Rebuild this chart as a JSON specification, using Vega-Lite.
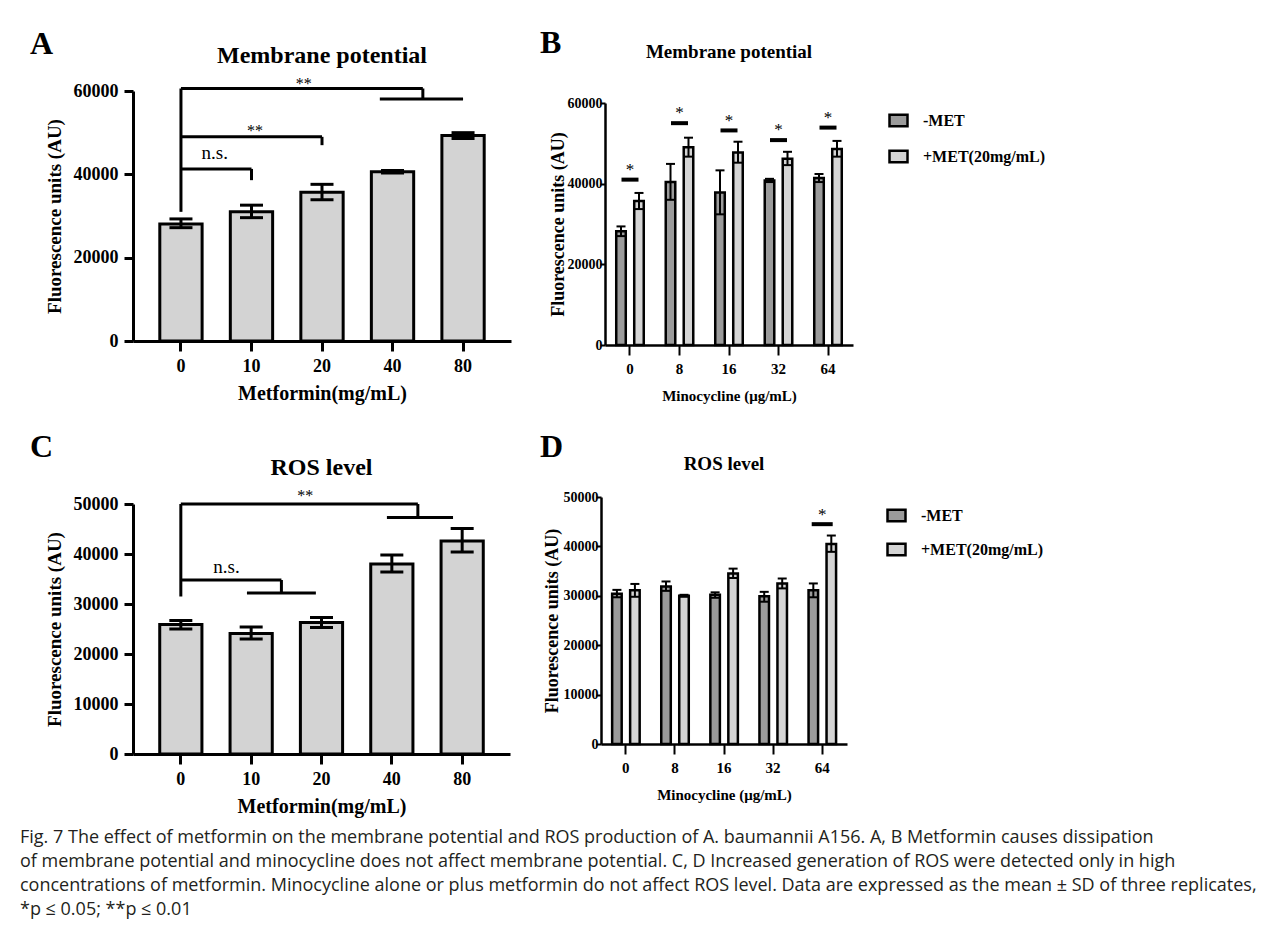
{
"$schema":"https://vega.github.io/schema/vega-lite/v6.json",
"background":"white",
"padding":{"left":20,"top":26,"right":10,"bottom":10},
"config":{
 "view":{"stroke":null},
 "axis":{"domainColor":"black","tickColor":"black","labelColor":"black","titleColor":"black","labelFont":"Liberation Serif","titleFont":"Liberation Serif","labelFontWeight":"bold","titleFontWeight":"bold","grid":false},
 "title":{"font":"Liberation Serif","fontWeight":"bold","color":"black"}
},
"datasets":{
 "mpA":[{"dose":"0","mean":28100,"lo":27200,"hi":29300},{"dose":"10","mean":31000,"lo":29600,"hi":32600},{"dose":"20","mean":35700,"lo":33900,"hi":37600},{"dose":"40","mean":40600,"lo":40300,"hi":40900},{"dose":"80","mean":49300,"lo":48600,"hi":50000}],
 "segA":[{"x1":0,"x2":0,"y1":31000,"y2":60600},{"x1":0,"x2":1,"y1":41300,"y2":41300},{"x1":1,"x2":1,"y1":41300,"y2":38600},{"x1":0,"x2":2,"y1":49000,"y2":49000},{"x1":2,"x2":2,"y1":49000,"y2":47000},{"x1":0,"x2":3.43,"y1":60600,"y2":60600},{"x1":3.43,"x2":3.43,"y1":60600,"y2":58100},{"x1":2.82,"x2":4.0,"y1":58100,"y2":58100}],
 "txtA":[{"x":0.48,"y":43600,"label":"n.s."},{"x":1.05,"y":49300,"label":"**"},{"x":1.74,"y":60500,"label":"**"}],
 "mpB":[{"mino":"0","grp":"-MET","mean":28200,"lo":27000,"hi":29400},{"mino":"0","grp":"+MET(20mg/mL)","mean":35700,"lo":33700,"hi":37700},{"mino":"8","grp":"-MET","mean":40400,"lo":36000,"hi":44900},{"mino":"8","grp":"+MET(20mg/mL)","mean":49000,"lo":46700,"hi":51400},{"mino":"16","grp":"-MET","mean":37800,"lo":32400,"hi":43300},{"mino":"16","grp":"+MET(20mg/mL)","mean":47700,"lo":45200,"hi":50400},{"mino":"32","grp":"-MET","mean":40800,"lo":40400,"hi":41200},{"mino":"32","grp":"+MET(20mg/mL)","mean":46200,"lo":44600,"hi":47900},{"mino":"64","grp":"-MET","mean":41400,"lo":40400,"hi":42400},{"mino":"64","grp":"+MET(20mg/mL)","mean":48600,"lo":46700,"hi":50600}],
 "sigB":[{"mino":"0","bar":41000,"star":42200},{"mino":"8","bar":55000,"star":56200},{"mino":"16","bar":53200,"star":54400},{"mino":"32","bar":50800,"star":52000},{"mino":"64","bar":53900,"star":55100}],
 "mpC":[{"dose":"0","mean":25900,"lo":25000,"hi":26700},{"dose":"10","mean":24100,"lo":23000,"hi":25400},{"dose":"20","mean":26300,"lo":25300,"hi":27300},{"dose":"40","mean":38000,"lo":36400,"hi":39800},{"dose":"80","mean":42600,"lo":40400,"hi":45100}],
 "segC":[{"x1":0,"x2":0,"y1":31500,"y2":50000},{"x1":0,"x2":1.43,"y1":34800,"y2":34800},{"x1":1.43,"x2":1.43,"y1":34800,"y2":32200},{"x1":0.94,"x2":1.92,"y1":32200,"y2":32200},{"x1":0,"x2":3.37,"y1":50000,"y2":50000},{"x1":3.37,"x2":3.37,"y1":50000,"y2":47300},{"x1":2.93,"x2":3.87,"y1":47300,"y2":47300}],
 "txtC":[{"x":0.65,"y":36200,"label":"n.s."},{"x":1.77,"y":50600,"label":"**"}],
 "mpD":[{"mino":"0","grp":"-MET","mean":30400,"lo":29700,"hi":31200},{"mino":"0","grp":"+MET(20mg/mL)","mean":31100,"lo":29800,"hi":32400},{"mino":"8","grp":"-MET","mean":31900,"lo":31000,"hi":32900},{"mino":"8","grp":"+MET(20mg/mL)","mean":30000,"lo":29800,"hi":30200},{"mino":"16","grp":"-MET","mean":30200,"lo":29600,"hi":30700},{"mino":"16","grp":"+MET(20mg/mL)","mean":34500,"lo":33600,"hi":35500},{"mino":"32","grp":"-MET","mean":29900,"lo":28800,"hi":30800},{"mino":"32","grp":"+MET(20mg/mL)","mean":32500,"lo":31500,"hi":33500},{"mino":"64","grp":"-MET","mean":31100,"lo":29700,"hi":32500},{"mino":"64","grp":"+MET(20mg/mL)","mean":40500,"lo":38900,"hi":42200}],
 "sigD":[{"mino":"64","bar":44500,"star":45400}],
 "blank":[{}]
},
"title":{"text":["Fig. 7  The effect of metformin on the membrane potential and ROS production of A. baumannii A156. A, B Metformin causes dissipation","of membrane potential and minocycline does not affect membrane potential. C, D Increased generation of ROS were detected only in high","concentrations of metformin. Minocycline alone or plus metformin do not affect ROS level. Data are expressed as the mean ± SD of three replicates,","*p ≤ 0.05; **p ≤ 0.01"],"orient":"bottom","anchor":"start","frame":"bounds","font":"Open Sans","fontSize":18,"fontWeight":"normal","lineHeight":24,"offset":13,"dx":-10,"color":"#231f20"},
"resolve":{"scale":{"color":"independent"},"legend":{"color":"independent"}},
"columns":2,
"align":"none",
"spacing":{"row":27,"column":29},
"concat":[
 {"title":{"text":"A","anchor":"start","frame":"bounds","fontSize":32,"dx":-15,"offset":-29},
  "spacing":0,
  "vconcat":[
  {"width":10,"height":1,"data":{"name":"blank"},"mark":{"type":"text"},"encoding":{"text":{"value":""}}},
  {
   "width":378,"height":250,
   "title":{"text":"Membrane potential","fontSize":24,"frame":"group","offset":8},
   "resolve":{"scale":{"x":"independent"}},
   "layer":[
    {"data":{"name":"mpA"},"layer":[
     {"mark":{"type":"bar","fill":"#d3d3d3","stroke":"black","strokeWidth":3},
      "encoding":{"x":{"field":"dose","type":"ordinal","sort":["0","10","20","40","80"],"scale":{"paddingInner":0.4,"paddingOuter":0.38},"axis":{"title":"Metformin(mg/mL)","labelAngle":0,"labelFontSize":18,"titleFontSize":20,"tickSize":10,"tickWidth":3,"domainWidth":3,"labelPadding":6,"titlePadding":8}},
       "y":{"field":"mean","type":"quantitative","title":"Fluorescence units (AU)","scale":{"domain":[0,60000],"nice":false},"axis":{"values":[0,20000,40000,60000],"format":"d","labelFontSize":18,"titleFontSize":19,"tickSize":9,"tickWidth":3,"domainWidth":3,"labelPadding":6,"titlePadding":9}}}},
     {"mark":{"type":"rule","color":"black","strokeWidth":3},
      "encoding":{"x":{"field":"dose","type":"ordinal","sort":["0","10","20","40","80"]},"y":{"field":"lo","type":"quantitative","title":"Fluorescence units (AU)"},"y2":{"field":"hi"}}},
     {"mark":{"type":"tick","color":"black","opacity":1,"size":23,"thickness":3},
      "encoding":{"x":{"field":"dose","type":"ordinal","sort":["0","10","20","40","80"]},"y":{"field":"hi","type":"quantitative","title":"Fluorescence units (AU)"}}},
     {"mark":{"type":"tick","color":"black","opacity":1,"size":23,"thickness":3},
      "encoding":{"x":{"field":"dose","type":"ordinal","sort":["0","10","20","40","80"]},"y":{"field":"lo","type":"quantitative","title":"Fluorescence units (AU)"}}}
    ]},
    {"layer":[
     {"data":{"name":"segA"},"mark":{"type":"rule","color":"black","strokeWidth":3},
      "encoding":{"x":{"field":"x1","type":"quantitative","scale":{"domain":[-0.68,4.68],"nice":false,"zero":false},"axis":null},"x2":{"field":"x2"},"y":{"field":"y1","type":"quantitative","title":"Fluorescence units (AU)"},"y2":{"field":"y2"}}},
     {"data":{"name":"txtA"},"transform":[{"filter":"datum.label == 'n.s.'"}],"mark":{"type":"text","font":"Liberation Serif","color":"black","fontSize":19,"baseline":"alphabetic"},
      "encoding":{"x":{"field":"x","type":"quantitative","axis":null},"y":{"field":"y","type":"quantitative","title":"Fluorescence units (AU)"},"text":{"field":"label"}}},
     {"data":{"name":"txtA"},"transform":[{"filter":"datum.label != 'n.s.'"}],"mark":{"type":"text","font":"Liberation Serif","color":"black","fontSize":16,"baseline":"alphabetic"},
      "encoding":{"x":{"field":"x","type":"quantitative","axis":null},"y":{"field":"y","type":"quantitative","title":"Fluorescence units (AU)"},"text":{"field":"label"}}}
    ]}
   ]
  }]
 },
 {"title":{"text":"B","anchor":"start","frame":"bounds","fontSize":32,"dx":-9,"offset":-28},
  "spacing":0,
  "resolve":{"scale":{"color":"independent"},"legend":{"color":"independent"}},
  "vconcat":[
  {"width":10,"height":1,"data":{"name":"blank"},"mark":{"type":"text"},"encoding":{"text":{"value":""}}},
  {
   "width":248,"height":242,
   "title":{"text":"Membrane potential","fontSize":19,"frame":"group","offset":34},
   "layer":[
    {"data":{"name":"mpB"},"mark":{"type":"bar","stroke":"black","strokeWidth":2.5},
     "encoding":{"x":{"field":"mino","type":"ordinal","sort":["0","8","16","32","64"],"scale":{"paddingInner":0.444,"paddingOuter":0.227},"axis":{"title":"Minocycline (μg/mL)","labelAngle":0,"labelFontSize":15,"titleFontSize":15,"tickSize":10,"tickWidth":2,"domainWidth":2.5,"labelPadding":6,"titlePadding":12}},
      "xOffset":{"field":"grp","type":"nominal","sort":["-MET","+MET(20mg/mL)"],"scale":{"paddingInner":0.47,"paddingOuter":0}},
      "y":{"field":"mean","type":"quantitative","title":"Fluorescence units (AU)","scale":{"domain":[0,60000],"nice":false},"axis":{"values":[0,20000,40000,60000],"format":"d","labelFontSize":14,"titleFontSize":18,"tickSize":5,"tickWidth":2,"domainWidth":2.5,"labelPadding":-2,"titlePadding":0}},
      "color":{"field":"grp","type":"nominal","scale":{"domain":["-MET","+MET(20mg/mL)"],"range":["#9b9b9b","#d4d4d4"]},"legend":{"title":null,"orient":"right","offset":28,"padding":7,"symbolType":"M-1,-0.65H1V0.65H-1Z","symbolSize":324,"symbolStrokeColor":"black","symbolStrokeWidth":2.5,"symbolOpacity":1,"labelFont":"Liberation Serif","labelFontWeight":"bold","labelFontSize":16,"labelColor":"black","labelOffset":14,"rowPadding":13}}}},
    {"data":{"name":"mpB"},"mark":{"type":"rule","color":"black","strokeWidth":2},
     "encoding":{"x":{"field":"mino","type":"ordinal","sort":["0","8","16","32","64"]},"xOffset":{"field":"grp","type":"nominal","sort":["-MET","+MET(20mg/mL)"]},"y":{"field":"lo","type":"quantitative","title":"Fluorescence units (AU)"},"y2":{"field":"hi"}}},
    {"data":{"name":"mpB"},"mark":{"type":"tick","color":"black","opacity":1,"size":9,"thickness":2},
     "encoding":{"x":{"field":"mino","type":"ordinal","sort":["0","8","16","32","64"]},"xOffset":{"field":"grp","type":"nominal","sort":["-MET","+MET(20mg/mL)"]},"y":{"field":"hi","type":"quantitative","title":"Fluorescence units (AU)"}}},
    {"data":{"name":"mpB"},"mark":{"type":"tick","color":"black","opacity":1,"size":9,"thickness":2},
     "encoding":{"x":{"field":"mino","type":"ordinal","sort":["0","8","16","32","64"]},"xOffset":{"field":"grp","type":"nominal","sort":["-MET","+MET(20mg/mL)"]},"y":{"field":"lo","type":"quantitative","title":"Fluorescence units (AU)"}}},
    {"data":{"name":"sigB"},"mark":{"type":"tick","color":"black","opacity":1,"size":17,"thickness":4},
     "encoding":{"x":{"field":"mino","type":"ordinal","sort":["0","8","16","32","64"]},"y":{"field":"bar","type":"quantitative","title":"Fluorescence units (AU)"}}},
    {"data":{"name":"sigB"},"mark":{"type":"text","font":"Liberation Serif","color":"black","fontSize":17,"baseline":"alphabetic"},
     "encoding":{"x":{"field":"mino","type":"ordinal","sort":["0","8","16","32","64"]},"y":{"field":"star","type":"quantitative","title":"Fluorescence units (AU)"},"text":{"value":"*"}}}
   ]
  }]
 },
 {"title":{"text":"C","anchor":"start","frame":"bounds","fontSize":32,"dx":-15,"offset":-19},
  "spacing":0,
  "vconcat":[
  {"width":10,"height":1,"data":{"name":"blank"},"mark":{"type":"text"},"encoding":{"text":{"value":""}}},
  {
   "width":377,"height":250,
   "title":{"text":"ROS level","fontSize":24,"frame":"group","offset":8},
   "resolve":{"scale":{"x":"independent"}},
   "layer":[
    {"data":{"name":"mpC"},"layer":[
     {"mark":{"type":"bar","fill":"#d3d3d3","stroke":"black","strokeWidth":3},
      "encoding":{"x":{"field":"dose","type":"ordinal","sort":["0","10","20","40","80"],"scale":{"paddingInner":0.4,"paddingOuter":0.38},"axis":{"title":"Metformin(mg/mL)","labelAngle":0,"labelFontSize":18,"titleFontSize":20,"tickSize":10,"tickWidth":3,"domainWidth":3,"labelPadding":6,"titlePadding":8}},
       "y":{"field":"mean","type":"quantitative","title":"Fluorescence units (AU)","scale":{"domain":[0,50000],"nice":false},"axis":{"values":[0,10000,20000,30000,40000,50000],"format":"d","labelFontSize":18,"titleFontSize":19,"tickSize":9,"tickWidth":3,"domainWidth":3,"labelPadding":6,"titlePadding":9}}}},
     {"mark":{"type":"rule","color":"black","strokeWidth":3},
      "encoding":{"x":{"field":"dose","type":"ordinal","sort":["0","10","20","40","80"]},"y":{"field":"lo","type":"quantitative","title":"Fluorescence units (AU)"},"y2":{"field":"hi"}}},
     {"mark":{"type":"tick","color":"black","opacity":1,"size":23,"thickness":3},
      "encoding":{"x":{"field":"dose","type":"ordinal","sort":["0","10","20","40","80"]},"y":{"field":"hi","type":"quantitative","title":"Fluorescence units (AU)"}}},
     {"mark":{"type":"tick","color":"black","opacity":1,"size":23,"thickness":3},
      "encoding":{"x":{"field":"dose","type":"ordinal","sort":["0","10","20","40","80"]},"y":{"field":"lo","type":"quantitative","title":"Fluorescence units (AU)"}}}
    ]},
    {"layer":[
     {"data":{"name":"segC"},"mark":{"type":"rule","color":"black","strokeWidth":3},
      "encoding":{"x":{"field":"x1","type":"quantitative","scale":{"domain":[-0.68,4.68],"nice":false,"zero":false},"axis":null},"x2":{"field":"x2"},"y":{"field":"y1","type":"quantitative","title":"Fluorescence units (AU)"},"y2":{"field":"y2"}}},
     {"data":{"name":"txtC"},"transform":[{"filter":"datum.label == 'n.s.'"}],"mark":{"type":"text","font":"Liberation Serif","color":"black","fontSize":19,"baseline":"alphabetic"},
      "encoding":{"x":{"field":"x","type":"quantitative","axis":null},"y":{"field":"y","type":"quantitative","title":"Fluorescence units (AU)"},"text":{"field":"label"}}},
     {"data":{"name":"txtC"},"transform":[{"filter":"datum.label != 'n.s.'"}],"mark":{"type":"text","font":"Liberation Serif","color":"black","fontSize":16,"baseline":"alphabetic"},
      "encoding":{"x":{"field":"x","type":"quantitative","axis":null},"y":{"field":"y","type":"quantitative","title":"Fluorescence units (AU)"},"text":{"field":"label"}}}
    ]}
   ]
  }]
 },
 {"title":{"text":"D","anchor":"start","frame":"bounds","fontSize":32,"dx":-3,"offset":-20},
  "spacing":0,
  "resolve":{"scale":{"color":"independent"},"legend":{"color":"independent"}},
  "vconcat":[
  {"width":10,"height":1,"data":{"name":"blank"},"mark":{"type":"text"},"encoding":{"text":{"value":""}}},
  {
   "width":246,"height":247,
   "title":{"text":"ROS level","fontSize":19,"frame":"group","offset":16},
   "layer":[
    {"data":{"name":"mpD"},"mark":{"type":"bar","stroke":"black","strokeWidth":2.5},
     "encoding":{"x":{"field":"mino","type":"ordinal","sort":["0","8","16","32","64"],"scale":{"paddingInner":0.444,"paddingOuter":0.227},"axis":{"title":"Minocycline (μg/mL)","labelAngle":0,"labelFontSize":15,"titleFontSize":15,"tickSize":10,"tickWidth":2,"domainWidth":2.5,"labelPadding":6,"titlePadding":12}},
      "xOffset":{"field":"grp","type":"nominal","sort":["-MET","+MET(20mg/mL)"],"scale":{"paddingInner":0.47,"paddingOuter":0}},
      "y":{"field":"mean","type":"quantitative","title":"Fluorescence units (AU)","scale":{"domain":[0,50000],"nice":false},"axis":{"values":[0,10000,20000,30000,40000,50000],"format":"d","labelFontSize":14,"titleFontSize":18,"tickSize":5,"tickWidth":2,"domainWidth":2.5,"labelPadding":-2,"titlePadding":2}},
      "color":{"field":"grp","type":"nominal","scale":{"domain":["-MET","+MET(20mg/mL)"],"range":["#9b9b9b","#d4d4d4"]},"legend":{"title":null,"orient":"right","offset":31,"padding":8,"symbolType":"M-1,-0.65H1V0.65H-1Z","symbolSize":324,"symbolStrokeColor":"black","symbolStrokeWidth":2.5,"symbolOpacity":1,"labelFont":"Liberation Serif","labelFontWeight":"bold","labelFontSize":16,"labelColor":"black","labelOffset":14,"rowPadding":11}}}},
    {"data":{"name":"mpD"},"mark":{"type":"rule","color":"black","strokeWidth":2},
     "encoding":{"x":{"field":"mino","type":"ordinal","sort":["0","8","16","32","64"]},"xOffset":{"field":"grp","type":"nominal","sort":["-MET","+MET(20mg/mL)"]},"y":{"field":"lo","type":"quantitative","title":"Fluorescence units (AU)"},"y2":{"field":"hi"}}},
    {"data":{"name":"mpD"},"mark":{"type":"tick","color":"black","opacity":1,"size":9,"thickness":2},
     "encoding":{"x":{"field":"mino","type":"ordinal","sort":["0","8","16","32","64"]},"xOffset":{"field":"grp","type":"nominal","sort":["-MET","+MET(20mg/mL)"]},"y":{"field":"hi","type":"quantitative","title":"Fluorescence units (AU)"}}},
    {"data":{"name":"mpD"},"mark":{"type":"tick","color":"black","opacity":1,"size":9,"thickness":2},
     "encoding":{"x":{"field":"mino","type":"ordinal","sort":["0","8","16","32","64"]},"xOffset":{"field":"grp","type":"nominal","sort":["-MET","+MET(20mg/mL)"]},"y":{"field":"lo","type":"quantitative","title":"Fluorescence units (AU)"}}},
    {"data":{"name":"sigD"},"mark":{"type":"tick","color":"black","opacity":1,"size":21,"thickness":4},
     "encoding":{"x":{"field":"mino","type":"ordinal","sort":["0","8","16","32","64"]},"y":{"field":"bar","type":"quantitative","title":"Fluorescence units (AU)"}}},
    {"data":{"name":"sigD"},"mark":{"type":"text","font":"Liberation Serif","color":"black","fontSize":17,"baseline":"alphabetic"},
     "encoding":{"x":{"field":"mino","type":"ordinal","sort":["0","8","16","32","64"]},"y":{"field":"star","type":"quantitative","title":"Fluorescence units (AU)"},"text":{"value":"*"}}}
   ]
  }]
 }
]
}
